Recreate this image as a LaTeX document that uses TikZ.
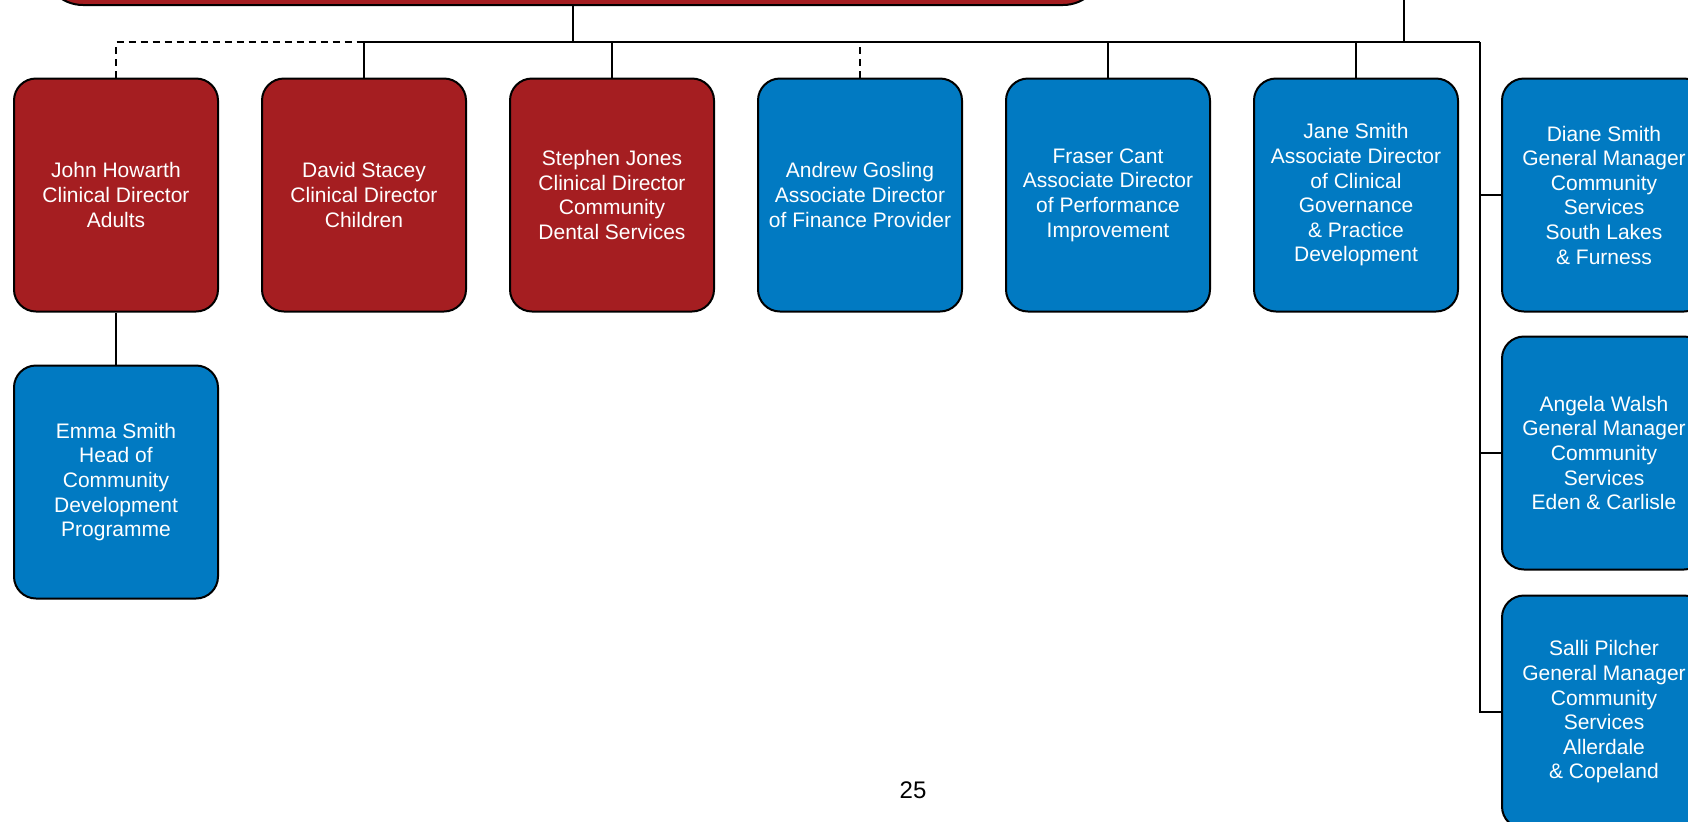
\documentclass[tikz,border=0pt]{standalone}
\usepackage{fontspec}
\setmainfont{Liberation Sans}
\definecolor{dirred}{RGB}{165,30,33}
\definecolor{mgrblue}{RGB}{1,122,194}
\begin{document}
\begin{tikzpicture}[x=0.5pt,y=-0.5pt,
  orgbox/.style={rectangle, rounded corners=11pt, draw=black, line width=1pt,
    minimum width=102pt, minimum height=116.5pt, inner sep=0pt,
    text=white, align=center, font=\fontsize{10.5}{12.3}\selectfont},
  redbox/.style={orgbox, fill=dirred},
  bluebox/.style={orgbox, fill=mgrblue},
  link/.style={draw=black, line width=0.9pt},
  dotlink/.style={link, dash pattern=on 3.5pt off 2.5pt}]
\useasboundingbox (0,0) rectangle (1688,821);
\clip (0,0) rectangle (1688,821);

% parent box, running off the top edge
\node[rectangle, rounded corners=20pt, draw=black, line width=1pt, fill=dirred,
      minimum width=530pt, minimum height=100pt, inner sep=0pt] (top) at (573,-95) {};

% first row
\node[redbox]  (b1) at (116,195)  {John Howarth\\Clinical Director\\Adults};
\node[redbox]  (b2) at (364,195)  {David Stacey\\Clinical Director\\Children};
\node[redbox]  (b3) at (612,195)  {Stephen Jones\\Clinical Director\\Community\\Dental Services};
\node[bluebox] (b4) at (860,195)  {Andrew Gosling\\Associate Director\\of Finance Provider};
\node[bluebox] (b5) at (1108,195) {Fraser Cant\\Associate Director\\of Performance\\Improvement};
\node[bluebox] (b6) at (1356,195) {Jane Smith\\Associate Director\\of Clinical\\Governance\\\& Practice\\Development};

% right-hand column
\node[bluebox] (b7) at (1604,195) {Diane Smith\\General Manager\\Community\\Services\\South Lakes\\\& Furness};
\node[bluebox] (b8) at (1604,453) {Angela Walsh\\General Manager\\Community\\Services\\Eden \& Carlisle};
\node[bluebox] (b9) at (1604,712) {Salli Pilcher\\General Manager\\Community\\Services\\Allerdale\\\& Copeland};

% below John Howarth
\node[bluebox] (emma) at (116,482) {Emma Smith\\Head of\\Community\\Development\\Programme};

% page number
\node[font=\fontsize{12}{14}\selectfont, inner sep=0pt] (page) at (913,790) {25};

% connector junctions
\coordinate (hub)   at (573,42);
\coordinate (rail)  at (1480,42);
\coordinate (upper) at (1404,0);

\draw[link] (top.south) -- (hub);
\draw[link] (upper) -- (upper |- rail);
\draw[link] (b2.north) |- (rail);
\draw[link] (b3.north) -- (b3.north |- rail);
\draw[link] (b5.north) -- (b5.north |- rail);
\draw[link] (b6.north) -- (b6.north |- rail);
\draw[dotlink] (b1.north) |- (b2.north |- rail);
\draw[dotlink] (b4.north) -- (b4.north |- rail);

\draw[link] (rail) -- (rail |- b9.west) -- (b9.west);
\draw[link] (rail |- b7.west) -- (b7.west);
\draw[link] (rail |- b8.west) -- (b8.west);

\draw[link] (b1.south) -- (emma.north);
\end{tikzpicture}
\end{document}
